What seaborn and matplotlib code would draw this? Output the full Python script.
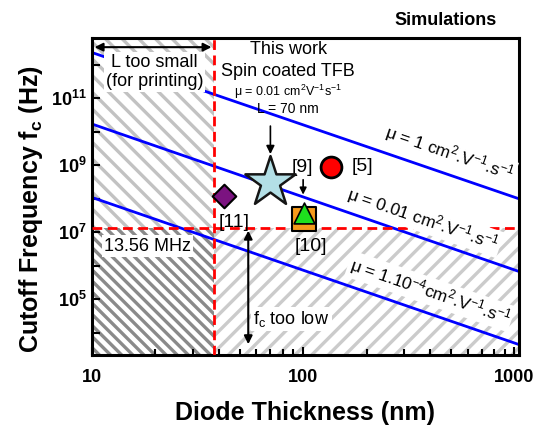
import numpy as np
import pandas as pd
import matplotlib
matplotlib.use("Agg")
import matplotlib.pyplot as plt
import matplotlib.ticker as mticker
import seaborn as sns

# simulated cutoff frequency lines
thickness_nm = [10, 1050]
fc_mu_1 = [2.3e12, 1.0e8]
fc_mu_001 = [1.7e10, 6.8e5]
fc_mu_1e4 = [1.1e8, 4.5e3]
mu_names = ["1", "0.01", "1e-4"]

# literature / this work points
star_pt = (70, 3.1e8)       # this work
circle_pt = (135, 8.7e8)    # [5]
diamond_pt = (42, 1.17e8)   # [11]
square_pt = (101, 2.5e7)    # [10]
triangle_pt = (101, 3.8e7)  # [9]

f_rfid = 1.356e7     # 13.56 MHz
L_min = 38           # printing limit (nm)

sns.set_style("ticks")
plt.rcParams["font.family"] = ["Liberation Sans", "DejaVu Sans"]
plt.rcParams["mathtext.fontset"] = "custom"
plt.rcParams["mathtext.rm"] = "Liberation Sans"
plt.rcParams["mathtext.default"] = "regular"
plt.rcParams["hatch.linewidth"] = 2.4
for k in ["text.color", "axes.labelcolor", "xtick.color", "ytick.color", "axes.edgecolor"]:
    plt.rcParams[k] = "black"

df = pd.DataFrame({
    "L": thickness_nm * 3,
    "fc": fc_mu_1 + fc_mu_001 + fc_mu_1e4,
    "mu": np.repeat(mu_names, 2),
})

fig = plt.figure(figsize=(5.4, 4.33), dpi=100)
ax = fig.add_axes([0.170, 0.180, 0.791, 0.732])
ax.set_xscale("log")
ax.set_yscale("log")
xlo, xhi = 10, 1050
ylo, yhi = 10**3.34, 10**12.79
ax.set_xlim(xlo, xhi)
ax.set_ylim(ylo, yhi)

# hatched forbidden regions
ax.fill_between([xlo, L_min], f_rfid, yhi, facecolor="none", edgecolor="#c2c2c2",
                hatch="\\\\", linewidth=0, zorder=0)
ax.fill_between([xlo, L_min], ylo, f_rfid, facecolor="none", edgecolor="#8a8a8a",
                hatch="\\\\\\", linewidth=0, zorder=0)
ax.fill_between([L_min, xhi], ylo, f_rfid, facecolor="none", edgecolor="#cbcbcb",
                hatch="//", linewidth=0, zorder=0)

sns.lineplot(data=df, x="L", y="fc", hue="mu", palette=["#0000ff"] * 3,
             linewidth=2.0, legend=False, ax=ax, zorder=2)

ax.axhline(f_rfid, color="#ff0000", lw=2, dashes=(3.5, 2), zorder=3)
ax.axvline(L_min, color="#ff0000", lw=2, dashes=(3.5, 2), zorder=3)

# markers
sns.scatterplot(x=[square_pt[0]], y=[square_pt[1]], marker="s", s=17**2,
                color="#f59a1b", edgecolor="black", linewidth=1.5, ax=ax, zorder=5)
sns.scatterplot(x=[triangle_pt[0]], y=[triangle_pt[1]], marker="^", s=15**2,
                color="#1ee01e", edgecolor="black", linewidth=1.2, ax=ax, zorder=6)
sns.scatterplot(x=[diamond_pt[0]], y=[diamond_pt[1]], marker="D", s=12**2,
                color="#7b1380", edgecolor="black", linewidth=1.5, ax=ax, zorder=5)
sns.scatterplot(x=[circle_pt[0]], y=[circle_pt[1]], marker="o", s=15**2,
                color="#ff0000", edgecolor="black", linewidth=2, ax=ax, zorder=5)
sns.scatterplot(x=[star_pt[0]], y=[star_pt[1]], marker="*", s=38**2,
                color="#b3dfe6", edgecolor="#151515", linewidth=1.8, ax=ax, zorder=5)

white = dict(facecolor="white", edgecolor="none", pad=1.5)
fs = 13

# arrows
ax.annotate("", xy=(xlo, 10**12.52), xytext=(L_min, 10**12.52),
            arrowprops=dict(arrowstyle="<|-|>", color="black", lw=1.5, mutation_scale=12))
ax.annotate("", xy=(55, f_rfid), xytext=(55, 10**3.58),
            arrowprops=dict(arrowstyle="<|-|>", color="black", lw=1.5, mutation_scale=12))
ax.annotate("", xy=(70, 10**9.25), xytext=(70, 10**10.25),
            arrowprops=dict(arrowstyle="-|>", color="black", lw=1.2, mutation_scale=12))
ax.annotate("", xy=(100, 10**8.04), xytext=(100, 10**8.65),
            arrowprops=dict(arrowstyle="-|>", color="black", lw=1.2, mutation_scale=10))

# text
ax.text(19.8, 10**11.79, "L too small\n(for printing)", fontsize=fs, ha="center",
        va="center", linespacing=1.15, bbox=white, zorder=4)
ax.text(85, 10**12.46, "This work", fontsize=fs, ha="center", va="center", zorder=4)
ax.text(85, 10**11.80, "Spin coated TFB", fontsize=fs, ha="center", va="center", zorder=4)
ax.text(85, 10**11.20, "μ = 0.01 cm$^{2}$V$^{-1}$s$^{-1}$", fontsize=9, ha="center",
        va="center", zorder=4)
ax.text(85, 10**10.69, "L = 70 nm", fontsize=10, ha="center", va="center", zorder=4)
ax.text(99, 10**8.93, "[9]", fontsize=14, ha="center", va="center", zorder=4)
ax.text(191, 10**8.97, "[5]", fontsize=14, ha="center", va="center", zorder=4)
ax.text(47, 10**7.28, "[11]", fontsize=14, ha="center", va="center", zorder=4)
ax.text(109, 10**6.59, "[10]", fontsize=14, ha="center", va="center", zorder=4)
ax.text(18.3, 10**6.59, "13.56 MHz", fontsize=fs, ha="center", va="center",
        bbox=white, zorder=4)
ax.text(88, 10**4.42, "f$_{c}$ too low", fontsize=fs, ha="center", va="center",
        bbox=white, zorder=4)
ax.text(490, 10**9.36, "μ = 1 cm$^{2}$.V$^{-1}$.s$^{-1}$", fontsize=12.5, rotation=-19,
        ha="center", va="center", bbox=white, zorder=4)
ax.text(370, 10**7.40, "μ = 0.01 cm$^{2}$.V$^{-1}$.s$^{-1}$", fontsize=12.5, rotation=-19,
        ha="center", va="center", bbox=white, zorder=4)
ax.text(399, 10**5.24, "μ = 1.10$^{-4}$cm$^{2}$.V$^{-1}$.s$^{-1}$", fontsize=12.5,
        rotation=-19, ha="center", va="center", bbox=white, zorder=4)

fig.text(0.825, 0.952, "Simulations", fontsize=13, fontweight="bold", ha="center", va="center")

# axes styling
for sp in ax.spines.values():
    sp.set_linewidth(2.2)
    sp.set_color("black")
ax.yaxis.set_major_locator(mticker.FixedLocator([10.0**k for k in range(4, 13)]))
ax.yaxis.set_minor_locator(mticker.NullLocator())
ax.yaxis.set_major_formatter(mticker.FuncFormatter(
    lambda v, p: "$10^{%d}$" % round(np.log10(v)) if round(np.log10(v)) % 2 == 1 else ""))
ax.xaxis.set_major_formatter(mticker.FuncFormatter(lambda v, p: "%d" % v))
ax.tick_params(which="both", direction="in", width=1.5, top=False, right=False)
ax.tick_params(which="major", length=6, labelsize=13)
ax.tick_params(which="minor", length=4)
ax.tick_params(axis="x", which="major", pad=10)
for lab in ax.get_xticklabels() + ax.get_yticklabels():
    lab.set_fontweight("bold")

ax.set_xlabel("Diode Thickness (nm)", fontsize=18, fontweight="bold", labelpad=11)
ax.set_ylabel("Cutoff Frequency f$_{c}$ (Hz)", fontsize=18, fontweight="bold")
ax.yaxis.set_label_coords(-0.11, 0.46)

fig.savefig("out.png", dpi=100)
